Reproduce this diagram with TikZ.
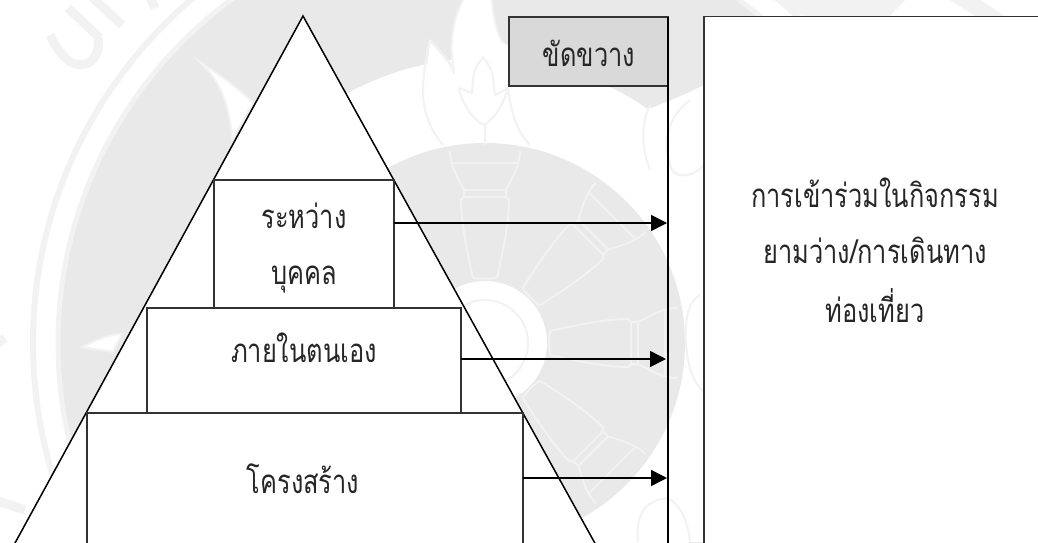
\documentclass[tikz,border=0pt]{standalone}
\usepackage{fontspec}
\usetikzlibrary{arrows.meta,calc}
\newfontfamily\thaifont[Script=Thai,FakeStretch=0.77]{Loma}
\definecolor{wmgray}{HTML}{E9E9E9}
\definecolor{wmline}{HTML}{F2F2F2}
\definecolor{boxgray}{HTML}{D9D9D9}
\definecolor{boxedge}{HTML}{333333}
\tikzset{
  wmfill/.style={fill=wmgray,draw=none},
  wmwhite/.style={fill=white,draw=wmline,line width=2pt},
  wmplain/.style={fill=white,draw=none},
  wmstroke/.style={draw=wmline,line width=2pt,line join=round},
  wmletter/.style={draw=wmline,line width=9pt},
  framebox/.style={draw=boxedge,fill=white,line width=1.3pt,rectangle,inner sep=0pt,outer sep=0pt},
  hinderbox/.style={framebox,fill=boxgray},
  label/.style={font=\thaifont\fontsize{33}{37}\selectfont,anchor=base,inner sep=0pt,text=black!85},
  pyramid/.style={draw=black,fill=white,line width=1.5pt,line join=miter},
  barline/.style={draw=black,line width=2pt},
  flow/.style={draw=black,line width=1.6pt,-{Triangle[length=16pt,width=16pt]}},
}
\newcommand{\wmpetal}[1]{%
  \begin{scope}[shift={(485,343)},rotate=#1]
    \draw[wmstroke] (-12,-65) .. controls (-20,-100) and (-24,-125) .. (-24,-143) -- (-21,-146) -- (-21,-153) -- (-22,-155) .. controls (-30,-170) and (-35,-180) .. (-35,-192);
    \draw[wmstroke] (12,-65) .. controls (20,-100) and (24,-125) .. (24,-143) -- (21,-146) -- (21,-153) -- (22,-155) .. controls (30,-170) and (35,-180) .. (35,-192);
    \draw[wmstroke] (-21,-146) -- (21,-146) (-21,-153) -- (21,-153) (-33,-180) -- (33,-180);
    \draw[wmstroke] (-12,-65) .. controls (-5,-64) and (5,-64) .. (12,-65);
  \end{scope}}
\begin{document}
\begin{tikzpicture}[x=1pt,y=-1pt]
\useasboundingbox (0,0) rectangle (1038,542);
\begin{scope}
\clip (0,0) rectangle (1038,542);
% watermark seal
\coordinate (seal) at (485,343);
\fill[white] (0,0) rectangle (1038,542);
\draw[draw=wmline,line width=6pt] (seal) circle[radius=452];
\fill[wmfill,even odd rule] (seal) circle[radius=427] (seal) circle[radius=285];
\draw[draw=wmline,line width=5pt] (seal) circle[radius=427];
\fill[wmplain] (640,112) .. controls (660,105) and (685,95) .. (704,85) -- (704,542) -- (640,542) -- cycle;
\fill[wmplain] (453,73) .. controls (450,50) and (450,25) .. (463,0) -- (492,0) .. controls (493,20) and (498,35) .. (503,43) -- (520,50) -- (520,70) -- cycle;
\fill[wmplain] (427,66) -- (430,42) .. controls (438,50) and (448,62) .. (453,73) -- cycle;
\path[wmwhite] (200,62) .. controls (222,76) and (243,92) .. (253,103) -- (232,140) .. controls (230,110) and (224,85) .. (200,62) -- cycle;
\path[wmwhite] (83,347) .. controls (95,340) and (110,334) .. (122,334) -- (113,352) .. controls (103,350) and (92,349) .. (83,347) -- cycle;
\fill[wmfill] (seal) circle[radius=200];
\fill[wmplain] (seal) circle[radius=62];
\draw[wmstroke] (seal) circle[radius=43];
\wmpetal{0}\wmpetal{-45}\wmpetal{-90}\wmpetal{-135}
% torch
\draw[wmstroke] (483,57) .. controls (477,65) and (473,72) .. (473,80) -- (472,93) -- (459,88) .. controls (461,100) and (470,118) .. (484,125) .. controls (496,118) and (505,100) .. (508,88) -- (495,95) -- (493,78) .. controls (492,70) and (488,63) .. (483,57) -- cycle;
\draw[wmstroke] (485,125) -- (485,145);
\draw[wmstroke] (443,145) .. controls (430,130) and (423,110) .. (423,93) .. controls (423,75) and (426,55) .. (430,40) .. controls (440,50) and (450,62) .. (454,73) .. controls (450,50) and (450,25) .. (463,0);
\draw[wmstroke] (492,0) .. controls (493,20) and (498,35) .. (503,43);
\draw[wmstroke] (530,145) .. controls (520,135) and (512,120) .. (508,88);
\draw[wmstroke] (650,105) .. controls (640,125) and (642,150) .. (650,170) (690,100) .. controls (670,115) and (660,140) .. (672,170) .. controls (680,180) and (695,175) .. (704,165);
\draw[wmstroke] (700,295) .. controls (690,300) and (684,315) .. (686,345) .. controls (688,370) and (695,385) .. (704,392);
\draw[wmstroke] (638,542) .. controls (635,515) and (645,500) .. (668,498) .. controls (680,505) and (688,520) .. (690,542);
% outer lettering of the seal
\draw[wmletter] (50,35) .. controls (62,60) and (75,70) .. (90,62) .. controls (98,55) and (100,45) .. (98,38);
\draw[wmletter] (68,8) -- (100,38);
\draw[wmletter] (92,-3) -- (122,25);
\draw[wmletter] (150,-3) -- (155,8);
\draw[wmletter] (-5,500) -- (25,510);
\draw[wmletter] (-5,345) -- (5,338);
\fill[wmline] (773,0) -- (805,16) -- (890,16) -- (905,0) -- cycle;
\fill[wmline] (950,0) -- (975,16) -- (1005,16) -- (980,0) -- cycle;
% pyramid
\coordinate (apex) at (303,16);
\coordinate (baseL) at (3,565);
\coordinate (baseR) at (607,565);
\draw[pyramid] (apex) -- (baseL) -- (baseR) -- cycle;
% boxes
\node[framebox,minimum width=180pt,minimum height=128pt] (inter) at (304,244) {};
\node[framebox,minimum width=314pt,minimum height=105pt] (intra) at (304,360.5) {};
\node[framebox,minimum width=436pt,minimum height=160pt] (struct) at (305,493) {};
\node[framebox,minimum width=400pt,minimum height=560pt] (leisure) at (904,296.5) {};
\node[hinderbox,minimum width=159pt,minimum height=69pt] (hinder) at (588.5,51.5) {};
% constraint line
\coordinate (barTop) at (667.8,17);
\coordinate (barBot) at (667.8,560);
\draw[barline] (barTop) -- (barBot);
% texts
\node[label] (t1) at (589,66) {ขัดขวาง};
\node[label] (t2) at (304,228) {ระหว่าง};
\node[label] (t3) at (304,284) {บุคคล};
\node[label] (t4) at (304,362) {ภายในตนเอง};
\node[label] (t5) at (303,493) {โครงสร้าง};
\node[label] (t6) at (875,207) {การเข้าร่วมในกิจกรรม};
\node[label] (t7) at (875,263) {ยามว่าง/การเดินทาง};
\node[label] (t8) at (875,322) {ท่องเที่ยว};
% arrows
\coordinate (a1) at (667,223);
\coordinate (a2) at (666,359);
\coordinate (a3) at (667,478);
\draw[flow] (inter.east |- a1) -- (a1);
\draw[flow] (intra.east |- a2) -- (a2);
\draw[flow] (struct.east |- a3) -- (a3);
\end{scope}
\end{tikzpicture}
\end{document}
